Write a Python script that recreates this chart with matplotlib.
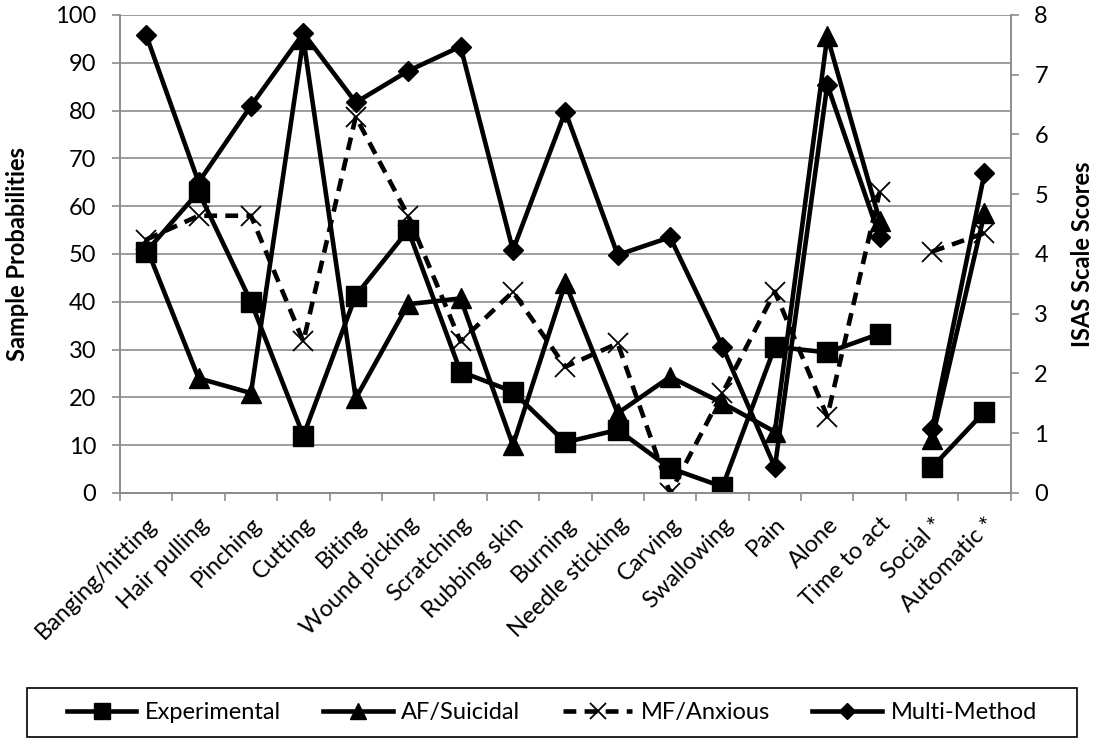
import matplotlib
matplotlib.use("Agg")
import matplotlib.pyplot as plt
from matplotlib.patches import Rectangle
import numpy as np

plt.rcParams['font.family'] = ['Lato', 'DejaVu Sans']

categories = ["Banging/hitting", "Hair pulling", "Pinching", "Cutting", "Biting",
              "Wound picking", "Scratching", "Rubbing skin", "Burning",
              "Needle sticking", "Carving", "Swallowing", "Pain", "Alone",
              "Time to act", "Social *", "Automatic *"]

# Sample probabilities (left axis), first 15 categories
experimental = [50.5, 63.0, 40.0, 12.0, 41.3, 55.0, 25.4, 21.2, 10.6, 13.2, 5.2, 1.3, 30.6, 29.4, 33.3]
af_suicidal = [51.5, 24.0, 20.9, 95.0, 19.8, 39.5, 40.7, 10.0, 43.9, 16.7, 24.3, 18.8, 12.8, 95.5, 57.0]
mf_anxious = [53.0, 58.0, 58.0, 31.7, 78.7, 58.0, 31.7, 42.1, 26.4, 31.3, 0.0, 20.9, 42.1, 16.0, 63.0]
multi_method = [95.8, 65.0, 81.0, 96.2, 81.7, 88.3, 93.4, 50.8, 79.8, 49.8, 53.5, 30.6, 5.4, 85.4, 53.6]

# ISAS scale scores (right axis), last 2 categories
experimental_isas = [0.43, 1.36]
af_suicidal_isas = [0.90, 4.68]
mf_anxious_isas = [4.04, 4.35]
multi_method_isas = [1.07, 5.35]

left_ticks = list(range(0, 101, 10))
right_ticks = list(range(0, 9))

n_prob = len(experimental)
x_prob = np.arange(n_prob)
x_isas = np.arange(n_prob, len(categories))

fs = 17
fig = plt.figure(figsize=(11.1, 7.38), dpi=100)
ax = fig.add_axes([0.1081, 0.332, 0.8024, 0.6477])
ax2 = ax.twinx()

grid_c = "#8c8c8c"
lw = 3.3

styles = [
    dict(label="Experimental", marker="s", ms=14, ls="-"),
    dict(label="AF/Suicidal", marker="^", ms=14, ls="-"),
    dict(label="MF/Anxious", marker="x", ms=14, ls=(0, (2.8, 1.8)), mew=1.3),
    dict(label="Multi-Method", marker="D", ms=10.5, ls="-"),
]
prob_series = [experimental, af_suicidal, mf_anxious, multi_method]
isas_series = [experimental_isas, af_suicidal_isas, mf_anxious_isas, multi_method_isas]

handles = []
for st, yv, yi in zip(styles, prob_series, isas_series):
    kw = dict(color="black", lw=lw, marker=st["marker"], ms=st["ms"],
              ls=st["ls"], mfc="black", mec="black", mew=st.get("mew", 1.0))
    h, = ax.plot(x_prob, yv, label=st["label"], **kw)
    ax2.plot(x_isas, yi, **kw)
    handles.append(h)

ax.set_xlim(-0.5, len(categories) - 0.5)
ax.set_ylim(0, 100)
ax2.set_ylim(0, 8)
ax.set_yticks(left_ticks)
ax2.set_yticks(right_ticks)

ax.set_xticks(np.arange(len(categories)))
ax.set_xticklabels(categories, rotation=45, ha="right", rotation_mode="anchor", fontsize=fs)
ax.set_xticks(np.arange(-0.5, len(categories), 1.0), minor=True)
ax.tick_params(axis="x", which="major", length=0, pad=15)
ax.tick_params(axis="x", which="minor", length=6, width=1.2, color=grid_c)
ax.tick_params(axis="y", length=6, width=1.2, color=grid_c, labelsize=fs, pad=11)
ax2.tick_params(axis="y", length=6, width=1.2, color=grid_c, labelsize=fs, pad=11)

ax.yaxis.grid(True, color=grid_c, lw=1.2)
ax.set_axisbelow(True)

for a in (ax, ax2):
    a.spines["top"].set_visible(False)
    for s in ("left", "right", "bottom"):
        a.spines[s].set_color(grid_c)
        a.spines[s].set_linewidth(1.2)

ax.set_ylabel("Sample Probabilities", fontsize=fs, fontweight="bold")
ax.yaxis.set_label_coords(-0.102, 0.5)
ax2.set_ylabel("ISAS Scale Scores", fontsize=fs, fontweight="bold")
ax2.yaxis.set_label_coords(1.068, 0.5)

# legend frame spanning the figure width
fig.patches.append(Rectangle((0.0243, 0.0014), 0.946, 0.0664, transform=fig.transFigure,
                             fill=False, edgecolor="black", lw=1.2))
leg = fig.legend(handles=handles, loc="center", ncol=4,
                 bbox_to_anchor=(0.497, 0.0346),
                 fontsize=fs, frameon=False,
                 handlelength=2.95, handletextpad=0.35, columnspacing=1.8,
                 markerscale=0.8)

fig.savefig("out.png", dpi=100)
